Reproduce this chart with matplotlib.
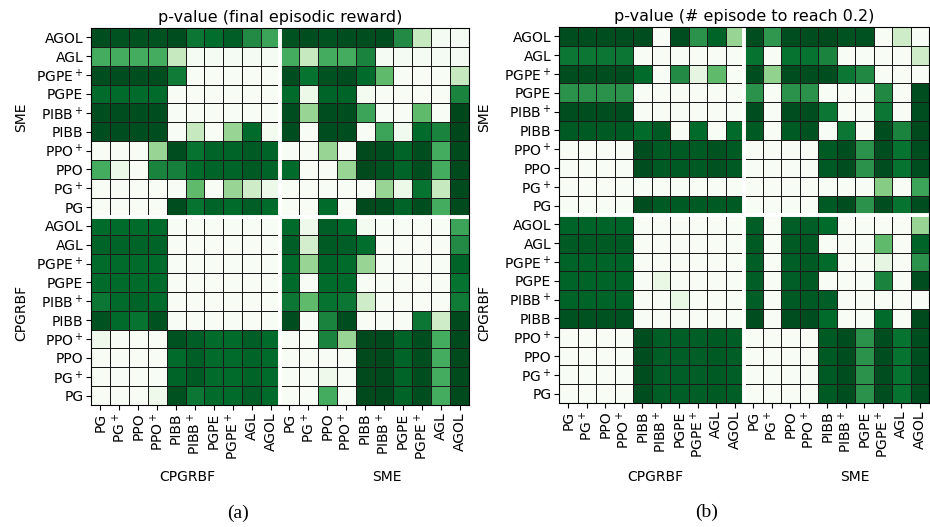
import numpy as np
import matplotlib
matplotlib.use("Agg")
import matplotlib.pyplot as plt

W, H = 930, 527

methods = ["PG", "PG$^+$", "PPO", "PPO$^+$", "PIBB", "PIBB$^+$",
           "PGPE", "PGPE$^+$", "AGL", "AGOL"]
col_groups = ["CPGRBF", "SME"]
row_groups = ["SME", "CPGRBF"]
col_labels = methods + methods
row_labels = methods[::-1] + methods[::-1]

# colour intensity (0 = light, 1 = dark)
reward_p = [
    [0.97,0.95,0.96,0.95,0.97,0.83,0.87,0.92,0.75,0.65, 0.95,0.97,0.95,0.97,0.97,0.97,0.75,0.25,0.02,0.02],
    [0.62,0.62,0.62,0.62,0.25,0.02,0.02,0.02,0.02,0.02, 0.62,0.25,0.62,0.62,0.78,0.02,0.02,0.02,0.02,0.02],
    [0.97,0.97,0.97,0.97,0.82,0,0,0,0,0, 0.97,0.85,0.95,0.97,0.88,0.55,0,0,0,0.25],
    [0.88,0.88,0.88,0.88,0,0,0,0,0,0, 0.88,0.08,0.90,0.90,0.03,0,0,0,0,0.78],
    [0.97,0.97,0.97,0.97,0,0,0,0,0,0, 0.97,0.40,0.97,0.97,0.65,0,0,0.55,0,0.99],
    [0.97,0.97,0.97,0.97,0,0.25,0,0.40,0.88,0.03, 0.97,0,0.97,0.97,0,0.65,0.04,0.88,0.78,0.99],
    [0,0,0,0.40,0.97,0.85,0.90,0.90,0.93,0.90, 0,0,0.40,0,0.98,0.97,0.90,0.97,0.62,0.98],
    [0.62,0.08,0,0.78,0.80,0.88,0.90,0.90,0.93,0.90, 0.88,0,0,0.40,0.98,0.95,0.90,0.97,0.62,0.98],
    [0,0,0,0,0,0.55,0,0.40,0.22,0.08, 0,0,0,0,0,0.40,0.08,0.85,0.25,0.98],
    [0,0,0,0,0.97,0.85,0.90,0.88,0.92,0.88, 0,0,0.88,0,0.98,0.97,0.90,0.97,0.62,0.98],
    [0.88,0.88,0.88,0.88,0,0,0,0,0,0, 0.88,0.06,0.92,0.88,0.03,0,0,0,0,0.65],
    [0.90,0.90,0.90,0.90,0,0,0,0,0,0, 0.92,0.20,0.93,0.92,0.87,0,0,0,0,0.75],
    [0.88,0.88,0.88,0.88,0,0,0,0,0,0, 0.88,0.40,0.90,0.88,0.40,0,0,0,0,0.90],
    [0.88,0.88,0.88,0.88,0,0,0,0,0,0, 0.88,0,0.88,0.88,0,0,0,0,0,0.85],
    [0.83,0.88,0.90,0.88,0,0,0,0,0,0, 0.83,0.55,0.85,0.83,0.22,0,0,0,0,0.82],
    [0.95,0.88,0.85,0.95,0,0,0,0,0,0, 0.97,0,0.78,0.97,0,0,0,0.83,0.22,0.98],
    [0.06,0,0,0,0.95,0.92,0.88,0.88,0.92,0.88, 0,0,0.78,0.40,0.98,0.98,0.90,0.97,0.62,0.98],
    [0,0,0,0,0.88,0.92,0.88,0.88,0.90,0.88, 0,0,0,0,0.98,0.98,0.90,0.97,0.62,0.98],
    [0,0,0,0,0.90,0.93,0.88,0.88,0.90,0.88, 0,0,0.06,0,0.98,0.98,0.90,0.97,0.62,0.98],
    [0,0,0,0.06,0.96,0.83,0.88,0.88,0.92,0.88, 0,0,0.62,0,0.98,0.98,0.90,0.97,0.62,0.98],
]

episode_p = [
    [0.97,0.97,0.97,0.97,0.97,0,0.97,0.72,0.90,0.40, 0.97,0.70,0.97,0.97,0.98,0.95,0.95,0,0.22,0],
    [0.83,0.83,0.83,0.83,0,0,0,0,0,0, 0.85,0,0.85,0.85,0.78,0,0,0,0,0.22],
    [0.97,0.97,0.97,0.97,0.88,0,0.75,0.12,0.55,0, 0.97,0.42,0.97,0.97,0.97,0.83,0.76,0,0,0],
    [0.72,0.72,0.72,0.72,0,0,0,0,0,0, 0.72,0,0.72,0.72,0,0,0,0.76,0,0.97],
    [0.97,0.97,0.97,0.97,0,0,0,0,0,0, 0.97,0,0.97,0.97,0.83,0,0,0.83,0,0.97],
    [0.93,0.93,0.93,0.93,0.88,0.93,0,0.88,0,0.88, 0.93,0,0.93,0.95,0,0.83,0,0.97,0.78,0.98],
    [0,0,0,0,0.97,0.93,0.93,0.93,0.95,0.93, 0,0,0,0,0.93,0.97,0.72,0.97,0.85,0.97],
    [0,0,0,0,0.97,0.93,0.93,0.93,0.95,0.93, 0,0,0,0,0.93,0.97,0.72,0.97,0.85,0.97],
    [0,0,0,0,0,0,0,0,0,0, 0,0,0,0,0,0,0,0.45,0,0.65],
    [0,0,0,0,0.97,0.93,0.93,0.93,0.93,0.93, 0,0,0,0,0.93,0.97,0.72,0.97,0.85,0.97],
    [0.90,0.90,0.90,0.90,0,0,0,0,0,0, 0.92,0,0.92,0.92,0.88,0,0,0,0,0.40],
    [0.93,0.93,0.93,0.93,0,0,0,0,0,0, 0.93,0,0.93,0.93,0,0,0,0.55,0,0.90],
    [0.90,0.90,0.90,0.90,0,0,0,0,0,0, 0.92,0,0.92,0.93,0.88,0,0,0.12,0,0.72],
    [0.90,0.90,0.90,0.90,0,0.10,0,0,0,0, 0.92,0,0.92,0.93,0,0,0,0.78,0,0.97],
    [0.90,0.90,0.90,0.90,0,0,0.10,0,0,0, 0.92,0,0.93,0.93,0.92,0,0,0,0,0],
    [0.95,0.95,0.95,0.95,0,0,0,0,0,0, 0.97,0,0.97,0.97,0.88,0,0,0.88,0,0.98],
    [0,0,0,0,0.97,0.92,0.92,0.92,0.93,0.92, 0,0,0,0,0.93,0.97,0.72,0.97,0.85,0.97],
    [0,0,0,0,0.97,0.92,0.92,0.92,0.93,0.92, 0,0,0,0,0.93,0.97,0.72,0.97,0.85,0.97],
    [0,0,0,0,0.97,0.92,0.92,0.92,0.93,0.92, 0,0,0,0,0.93,0.97,0.72,0.97,0.85,0.97],
    [0,0,0,0,0.97,0.92,0.92,0.92,0.93,0.92, 0,0,0,0,0.93,0.97,0.72,0.97,0.85,0.97],
]

titles = ["p-value (final episodic reward)", "p-value (# episode to reach 0.2)"]
captions = ["(a)", "(b)"]

fig = plt.figure(figsize=(W / 100, H / 100), dpi=100)


def px_axes(x0, y0, x1, y1):
    return fig.add_axes([x0 / W, 1 - y1 / H, (x1 - x0) / W, (y1 - y0) / H])


def draw(ax, data, title):
    arr = np.array(data, dtype=float)
    n = arr.shape[0]
    ax.pcolormesh(np.arange(n + 1), np.arange(n + 1), arr, cmap="Greens",
                  vmin=0, vmax=1, edgecolors="#1a1a1a", linewidth=0.5)
    ax.set_xlim(0, n)
    ax.set_ylim(n, 0)
    ax.axvline(n / 2, color="white", lw=2.8)
    ax.axhline(n / 2, color="white", lw=2.8)
    ax.set_xticks(np.arange(n) + 0.5)
    ax.set_xticklabels(col_labels, rotation=90, fontsize=10)
    ax.set_yticks(np.arange(n) + 0.5)
    ax.set_yticklabels(row_labels, fontsize=10)
    ax.tick_params(length=3.5, width=0.8, pad=2)
    ax.set_title(title, fontsize=11.5, pad=4)
    for s in ax.spines.values():
        s.set_linewidth(0.8)


axA = px_axes(91, 28, 469, 405)
axB = px_axes(559, 27, 929, 403)
draw(axA, reward_p, titles[0])
draw(axB, episode_p, titles[1])

# group labels
for xr, (cx1, cx2) in [(21, (187, 387)), (484, (655, 855))]:
    fig.text(xr / W, 1 - 117 / H, row_groups[0], rotation=90, ha="center",
             va="center", fontsize=10)
    fig.text(xr / W, 1 - 313 / H, row_groups[1], rotation=90, ha="center",
             va="center", fontsize=10)
    fig.text(cx1 / W, 1 - 477 / H, col_groups[0], ha="center", va="center",
             fontsize=10)
    fig.text(cx2 / W, 1 - 477 / H, col_groups[1], ha="center", va="center",
             fontsize=10)

fig.text(238 / W, 1 - 513 / H, captions[0], ha="center", va="center",
         fontsize=14, family="Liberation Serif")
fig.text(707 / W, 1 - 512 / H, captions[1], ha="center", va="center",
         fontsize=14, family="Liberation Serif")

fig.savefig("out.png", dpi=100)
